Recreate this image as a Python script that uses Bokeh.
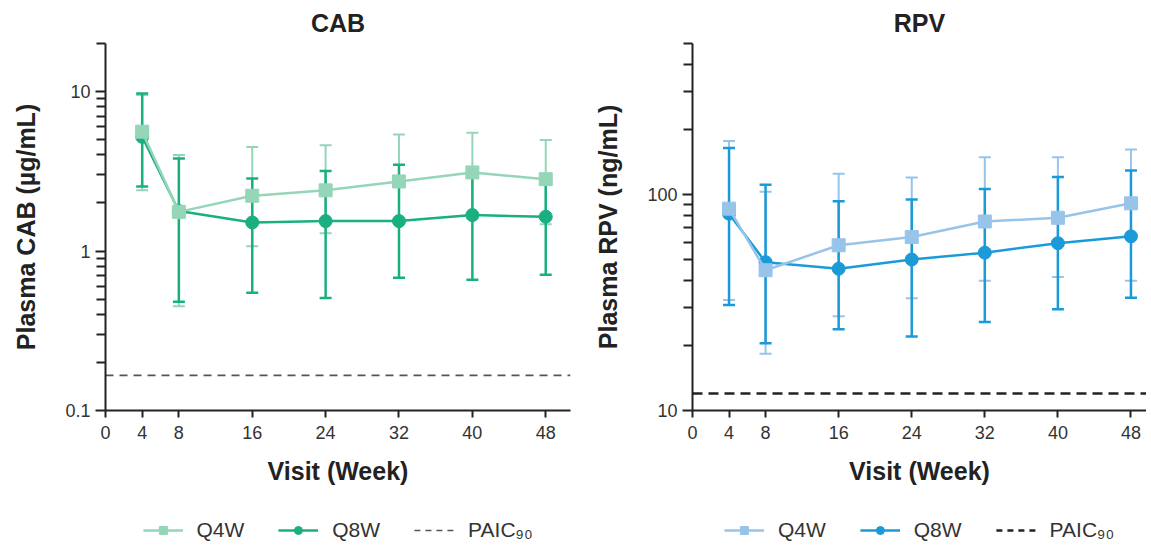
from bokeh.plotting import figure
from bokeh.models import (Range1d, FixedTicker, Whisker, TeeHead, ColumnDataSource,
                          Legend, LegendItem)
from bokeh.layouts import row, column
from bokeh.embed import file_html
from bokeh.resources import INLINE

# ---------------- data ----------------
weeks = [4, 8, 16, 24, 32, 40, 48]
x_ticks = [0, 4, 8, 16, 24, 32, 40, 48]

cab_q4w = [5.6, 1.76, 2.22, 2.40, 2.73, 3.11, 2.82]
cab_q4w_lo = [2.40, 0.45, 1.07, 1.29, 1.50, 1.60, 1.47]
cab_q4w_hi = [9.5, 4.0, 4.49, 4.6, 5.37, 5.52, 4.97]
cab_q8w = [5.2, 1.78, 1.51, 1.54, 1.54, 1.68, 1.64]
cab_q8w_lo = [2.54, 0.48, 0.547, 0.508, 0.68, 0.66, 0.71]
cab_q8w_hi = [9.7, 3.8, 2.85, 3.17, 3.47, 3.0, 2.8]
cab_paic90 = 0.166
cab_y_ticks = [0.1, 1, 10]
cab_y_labels = ["0.1", "1", "10"]
cab_y_minor = [0.2, 0.3, 0.4, 0.5, 0.6, 0.7, 0.8, 0.9, 2, 3, 4, 5, 6, 7, 8, 9, 20]

rpv_q4w = [86, 44.6, 58.2, 63.5, 75, 78, 91]
rpv_q4w_lo = [32.5, 18.3, 27.3, 33.1, 39.9, 41.5, 39.9]
rpv_q4w_hi = [177, 103, 124.6, 120, 148.6, 148.6, 161.5]
rpv_q8w = [81.5, 48.6, 45.3, 50, 53.8, 59.5, 64]
rpv_q8w_lo = [30.8, 20.5, 23.8, 22, 25.7, 29.4, 33.3]
rpv_q8w_hi = [164, 111, 93, 94.8, 106, 120.6, 129]
rpv_paic90 = 12
rpv_y_ticks = [10, 100]
rpv_y_labels = ["10", "100"]
rpv_y_minor = [20, 30, 40, 50, 60, 70, 80, 90, 200, 300, 400, 500]

legend_labels = ["Q4W", "Q8W", "PAIC\u2089\u2080"]

FONT = "Liberation Sans"


def make_panel(title, ylabel, yr, y_ticks, y_labels, y_minor, x_end,
               q4, q4lo, q4hi, q8, q8lo, q8hi, paic,
               light, dark, paic_color, paic_width, paic_dash,
               width, mbl, mbr):
    p = figure(width=width, height=500, y_axis_type="log",
               x_range=Range1d(0, x_end), y_range=Range1d(*yr),
               output_backend="svg", toolbar_location=None,
               min_border_left=mbl, min_border_right=mbr,
               min_border_top=43, min_border_bottom=90)
    p.outline_line_color = None
    p.xgrid.visible = False
    p.ygrid.visible = False

    p.title.text = title
    p.title.align = "center"
    p.title.text_font = FONT
    p.title.text_font_size = "25px"
    p.title.text_font_style = "bold"
    p.title.text_color = "#222222"
    p.title.standoff = 13

    for ax in (p.xaxis[0], p.yaxis[0]):
        ax.axis_line_width = 2
        ax.axis_line_color = "#222222"
        ax.major_tick_line_width = 2
        ax.major_tick_line_color = "#222222"
        ax.minor_tick_line_width = 2
        ax.minor_tick_line_color = "#222222"
        ax.major_label_text_font = FONT
        ax.major_label_text_font_size = "18px"
        ax.major_label_text_color = "#333333"
        ax.axis_label_text_font = FONT
        ax.axis_label_text_font_size = "25px"
        ax.axis_label_text_font_style = "bold"
        ax.axis_label_text_color = "#222222"

    p.xaxis.ticker = FixedTicker(ticks=x_ticks)
    p.xaxis.major_tick_in = 0
    p.xaxis.major_tick_out = 7
    p.xaxis.minor_tick_line_color = None
    p.xaxis.major_label_standoff = 8
    p.xaxis.axis_label = "Visit (Week)"
    p.xaxis.axis_label_standoff = 15

    p.yaxis.ticker = FixedTicker(ticks=y_ticks, minor_ticks=y_minor)
    p.yaxis.major_label_overrides = {t: l for t, l in zip(y_ticks, y_labels)}
    p.yaxis.major_tick_in = 0
    p.yaxis.major_tick_out = 10
    p.yaxis.minor_tick_in = 0
    p.yaxis.minor_tick_out = 9
    p.yaxis.major_label_standoff = 5
    p.yaxis.axis_label = ylabel
    p.yaxis.axis_label_standoff = 22

    # PAIC90 reference line
    p.line(x=[0, x_end], y=[paic, paic], line_color=paic_color,
           line_width=paic_width, line_dash=paic_dash)

    src4 = ColumnDataSource(dict(x=weeks, y=q4, lo=q4lo, hi=q4hi))
    src8 = ColumnDataSource(dict(x=weeks, y=q8, lo=q8lo, hi=q8hi))

    w4 = Whisker(source=src4, base="x", upper="hi", lower="lo", dimension="height",
                 line_color=light, line_width=2,
                 upper_head=TeeHead(size=12, line_color=light, line_width=2),
                 lower_head=TeeHead(size=12, line_color=light, line_width=2))
    w8 = Whisker(source=src8, base="x", upper="hi", lower="lo", dimension="height",
                 line_color=dark, line_width=2.5,
                 upper_head=TeeHead(size=12, line_color=dark, line_width=2.5),
                 lower_head=TeeHead(size=12, line_color=dark, line_width=2.5))
    p.add_layout(w4)
    p.add_layout(w8)

    p.line("x", "y", source=src8, line_color=dark, line_width=2.5)
    p.scatter("x", "y", source=src8, marker="circle", size=13,
              fill_color=dark, line_color=dark)
    p.line("x", "y", source=src4, line_color=light, line_width=2.5)
    p.scatter("x", "y", source=src4, marker="square", size=13,
              fill_color=light, line_color=light)

    # ---- legend strip below the panel (same series, plotted outside its view) ----
    lg = figure(width=width, height=44, output_backend="svg", toolbar_location=None,
                x_range=Range1d(-2, -1), y_range=Range1d(-2, -1),
                min_border_left=mbl, min_border_right=mbr,
                min_border_top=0, min_border_bottom=0)
    lg.axis.visible = False
    lg.grid.visible = False
    lg.outline_line_color = None
    r4l = lg.line(x=weeks, y=q4, line_color=light, line_width=2.5)
    r4s = lg.scatter(x=weeks, y=q4, marker="square", size=13,
                     fill_color=light, line_color=light)
    r8l = lg.line(x=weeks, y=q8, line_color=dark, line_width=2.5)
    r8s = lg.scatter(x=weeks, y=q8, marker="circle", size=13,
                     fill_color=dark, line_color=dark)
    rp = lg.line(x=[0, x_end], y=[paic, paic], line_color=paic_color,
                 line_width=paic_width, line_dash="6 5")
    legend = Legend(items=[LegendItem(label=legend_labels[0], renderers=[r4l, r4s]),
                           LegendItem(label=legend_labels[1], renderers=[r8l, r8s]),
                           LegendItem(label=legend_labels[2], renderers=[rp])],
                    orientation="horizontal", location="bottom_center",
                    label_text_font=FONT, label_text_font_size="21px",
                    label_text_color="#333333", glyph_width=40, glyph_height=20,
                    label_standoff=14, spacing=34, padding=0, margin=2,
                    border_line_color=None, background_fill_alpha=0)
    lg.add_layout(legend)
    return column(p, lg)


c1 = make_panel("CAB", "Plasma CAB (\u00b5g/mL)", (0.1, 20), cab_y_ticks, cab_y_labels,
                cab_y_minor, 50.7,
                cab_q4w, cab_q4w_lo, cab_q4w_hi, cab_q8w, cab_q8w_lo, cab_q8w_hi, cab_paic90,
                "#95d5b8", "#1aaf80", "#555555", 1.6, "8 6",
                width=591, mbl=105, mbr=21)
c2 = make_panel("RPV", "Plasma RPV (ng/mL)", (10, 500), rpv_y_ticks, rpv_y_labels,
                rpv_y_minor, 49.7,
                rpv_q4w, rpv_q4w_lo, rpv_q4w_hi, rpv_q8w, rpv_q8w_lo, rpv_q8w_hi, rpv_paic90,
                "#98c4ea", "#1b9ad8", "#222222", 2.5, "10 6",
                width=555, mbl=97, mbr=0)

layout = row(c1, c2)
open("out.html", "w").write(file_html(layout, INLINE))
